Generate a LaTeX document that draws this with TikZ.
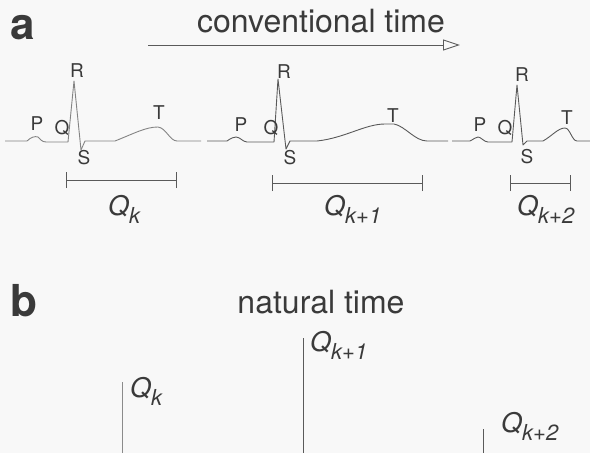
\documentclass[tikz,border=0pt]{standalone}
\usepackage{fontspec}
\setmainfont{TeX Gyre Heros}
\usetikzlibrary{arrows.meta}
\definecolor{ink}{HTML}{3A3A3A}
\definecolor{trace}{HTML}{5A5A5A}
\definecolor{bg}{HTML}{F8F8F8}
\tikzset{
  panel/.style={font=\fontsize{44}{44}\selectfont\bfseries, text=ink, inner sep=0pt},
  heading/.style={font=\fontsize{32}{32}\selectfont, text=ink, inner sep=0pt},
  wave/.style={font=\fontsize{19}{19}\selectfont, text=ink, inner sep=0pt},
  qlab/.style={font=\fontsize{27}{27}\selectfont\itshape, text=ink, inner sep=0pt},
  ecg/.style={draw=trace, line width=0.9pt, line join=round},
  bar/.style={draw=trace, line width=1pt},
  qline/.style={draw=trace, line width=0.9pt},
}
\newcommand{\qsub}[1]{Q\raisebox{-8pt}{\fontsize{22}{22}\selectfont #1}}
\begin{document}
\begin{tikzpicture}[x=1pt,y=-1pt]
\fill[bg] (0,0) rectangle (590,453);
\useasboundingbox (0,0) rectangle (590,453);

% panel labels and headings
\node[panel, anchor=base west] (pa) at (10,39) {a};
\node[panel, anchor=base west] (pb) at (10,316) {b};
\node[heading, anchor=base] (conv) at (321,32) {conventional time};
\node[heading, anchor=base] (nat) at (321,313) {natural time};

% arrow
\coordinate (arrS) at (148,45);
\coordinate (arrE) at (460,45);
\draw[draw=trace, line width=0.9pt, -{Triangle[open, length=17pt, width=11pt]}] (arrS) -- (arrE);

% ECG beat 1
\draw[ecg, draw=trace!75] (5,141) -- (27,141) .. controls (31,137) and (35,136) .. (38,137)
  .. controls (40,139) and (42,142) .. (46,142) -- (68,142) -- (74,81) -- (81,150) -- (85,141)
  -- (115,141) .. controls (135,133) and (146,127) .. (158,127)
  .. controls (166,128) and (170,141) .. (177,141) -- (201,141);
% ECG beat 2
\draw[ecg] (207,141) -- (227,141) .. controls (231,138) and (234,137) .. (236,137)
  .. controls (240,137) and (243,142) .. (247,142) -- (274,142) -- (278,79) -- (286,149) -- (290,141)
  -- (317,141) .. controls (345,138) and (365,124) .. (385,124) -- (394,124)
  .. controls (405,126) and (415,141) .. (427,141) -- (448,141);
% ECG beat 3
\draw[ecg] (452,141) -- (470,141) .. controls (474,139) and (476,137) .. (478,137)
  .. controls (481,137) and (484,142) .. (488,142) -- (512,142) -- (517,85) -- (523,145) -- (527,141)
  -- (543,141) .. controls (552,136) and (558,128) .. (565,128)
  .. controls (570,128) and (572,141) .. (577,141) -- (590,141);

% wave labels
\node[wave] (p1) at (37,124) {P};
\node[wave] (q1) at (62,128) {Q};
\node[wave] (r1) at (77,71) {R};
\node[wave] (s1) at (84,158) {S};
\node[wave] (t1) at (159,113) {T};
\node[wave] (p2) at (241,125) {P};
\node[wave] (q2) at (271,128) {Q};
\node[wave] (r2) at (284,72) {R};
\node[wave] (s2) at (290,158) {S};
\node[wave] (t2) at (393,116) {T};
\node[wave] (p3) at (480,125) {P};
\node[wave] (q3) at (505,128) {Q};
\node[wave] (r3) at (522,75) {R};
\node[wave] (s3) at (527,157) {S};
\node[wave] (t3) at (567,118) {T};

% interval bars
\coordinate (b1l) at (66,180); \coordinate (b1r) at (176,180);
\coordinate (b2l) at (272,183); \coordinate (b2r) at (422,183);
\coordinate (b3l) at (510,183); \coordinate (b3r) at (570,183);
\draw[bar] (b1l) -- (b1r);
\draw[bar] ([yshift=-8]b1l) -- ([yshift=8]b1l);
\draw[bar] ([yshift=-8]b1r) -- ([yshift=8]b1r);
\draw[bar] (b2l) -- (b2r);
\draw[bar] ([yshift=-8]b2l) -- ([yshift=8]b2l);
\draw[bar] ([yshift=-8]b2r) -- ([yshift=8]b2r);
\draw[bar] (b3l) -- (b3r);
\draw[bar] ([yshift=-8]b3l) -- ([yshift=8]b3l);
\draw[bar] ([yshift=-8]b3r) -- ([yshift=8]b3r);

\node[qlab, anchor=base west] (qa1) at (108,215) {\qsub{k}};
\node[qlab, anchor=base west] (qa2) at (324,215) {\qsub{k+1}};
\node[qlab, anchor=base west] (qa3) at (517,215) {\qsub{k+2}};

% natural time lines
\coordinate (n1t) at (122,382); \coordinate (n1b) at (122,453);
\coordinate (n2t) at (303,338); \coordinate (n2b) at (303,453);
\coordinate (n3t) at (483,429); \coordinate (n3b) at (483,453);
\draw[qline, draw=trace!70] (n1t) -- (n1b);
\draw[qline] (n2t) -- (n2b);
\draw[qline] (n3t) -- (n3b);
\node[qlab, anchor=base west] (qb1) at (130,397) {\qsub{k}};
\node[qlab, anchor=base west] (qb2) at (310,351) {\qsub{k+1}};
\node[qlab, anchor=base west] (qb3) at (501,432) {\qsub{k+2}};
\end{tikzpicture}
\end{document}
